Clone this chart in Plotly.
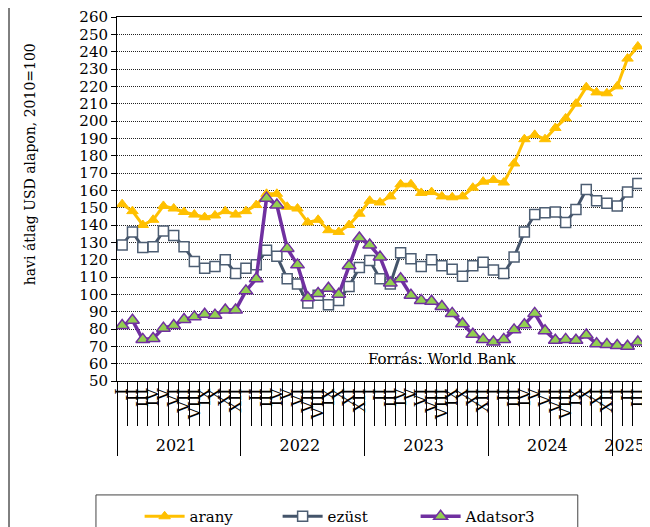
import plotly.graph_objects as go

# havi indexek, 2010=100
month_labels = ["I", "II", "III", "IV", "V", "VI", "VII", "VIII", "IX", "X", "XI", "XII"]
year_labels = ["2021", "2022", "2023", "2024", "2025"]
months_per_year = [12, 12, 12, 12, 3]

arany = [152, 148, 140, 143, 151, 149.5, 147.5, 146, 144.5, 145.5, 148, 146,
         148, 151.5, 158, 158, 150.5, 149.5, 141.5, 143, 137, 136, 140, 146.5,
         154, 153, 156.5, 163.5, 163.5, 158.5, 159, 156.5, 156, 156.5, 161.5, 165,
         166, 164.5, 175.5, 189.5, 192, 189.5, 196, 201.5, 210, 219.5, 216.5, 216,
         220, 236, 243]
ezust = [128.5, 136, 127, 127.5, 136.5, 134, 127.5, 119, 115, 116, 120, 112,
         115, 117, 125.5, 122, 109, 106, 95, 99.5, 94, 96.5, 104.5, 115.5,
         119.5, 109, 106, 124, 120.5, 116, 120, 116.5, 114.5, 110.5, 116.5, 118.5,
         114, 112, 121.5, 136, 146, 147, 147.5, 141.5, 149, 160.5, 154, 152.5,
         151, 159, 164]
adatsor3 = [82, 85, 74, 74.5, 80.5, 82, 85.5, 87, 88.5, 88, 91, 91,
            102, 109, 155.5, 151.5, 126.5, 117, 98, 100.5, 103.5, 100, 116.5, 132.5,
            128.5, 121.5, 106.5, 109, 99.5, 96.5, 96, 93, 89, 83, 77, 74,
            72.5, 74, 79.5, 82.5, 89, 79, 73.5, 74, 73.5, 76.5, 71.5, 71,
            70.5, 70, 72.5]

x_years = [y for y, n in zip(year_labels, months_per_year) for _ in range(n)]
x_months = [m for n in months_per_year for m in month_labels[:n]]
x = [x_years, x_months]

FONT = "DejaVu Serif"

fig = go.Figure()
fig.add_trace(go.Scatter(x=x, y=arany, name="arany", mode="lines+markers",
                         line=dict(color="#FFC000", width=3),
                         marker=dict(symbol="triangle-up", size=10, color="#FFC000",
                                     line=dict(color="#FFC000", width=1))))
fig.add_trace(go.Scatter(x=x, y=ezust, name="ezüst", mode="lines+markers",
                         line=dict(color="#44546A", width=3),
                         marker=dict(symbol="square", size=10, color="white",
                                     line=dict(color="#4d5e73", width=1.5))))
fig.add_trace(go.Scatter(x=x, y=adatsor3, name="Adatsor3", mode="lines+markers",
                         line=dict(color="#7030A0", width=3.5),
                         marker=dict(symbol="triangle-up", size=12, color="#92D050",
                                     line=dict(color="#7030A0", width=1.5))))

fig.update_xaxes(type="multicategory", range=[-0.5, len(arany) - 0.5],
                 showline=True, mirror=True, linecolor="black",
                 linewidth=1, showgrid=False, ticks="outside", tickson="boundaries",
                 ticklen=44, tickcolor="black", tickangle=-90,
                 tickmode="linear", tick0=0, dtick=1,
                 showdividers=True, dividercolor="black", dividerwidth=1,
                 tickfont=dict(family=FONT, size=16, color="black"))
fig.update_yaxes(range=[50, 260], dtick=10, showline=True, mirror=True, linecolor="black",
                 linewidth=1, ticks="outside", ticklen=5, tickcolor="black",
                 showgrid=True, gridcolor="#222", griddash="1px,1px", gridwidth=1,
                 zeroline=False, tickfont=dict(family=FONT, size=15, color="black"))

fig.add_annotation(text="havi átlag USD alapon, 2010=100", textangle=-90,
                   xref="paper", yref="paper", x=-0.165, y=0.596, xanchor="center",
                   showarrow=False, font=dict(family=FONT, size=14, color="black"))
fig.add_annotation(text="Forrás: World Bank", xref="paper", yref="paper",
                   x=0.618, y=0.03, showarrow=False,
                   font=dict(family=FONT, size=15, color="black"))

# legend frame and page border on the left
fig.add_shape(type="rect", xref="paper", yref="paper", x0=-0.04, x1=0.876,
              y0=-0.45, y1=-0.313, line=dict(color="#444", width=1))
fig.add_shape(type="line", xref="paper", yref="paper", x0=-0.2053, x1=-0.2053,
              y0=-0.5, y1=1.1, line=dict(color="black", width=1))

fig.update_layout(
    width=650, height=527,
    margin=dict(l=109, r=15, t=9, b=154, autoexpand=False),
    paper_bgcolor="white", plot_bgcolor="white",
    showlegend=True,
    legend=dict(orientation="h", x=0.043, xanchor="left", y=-0.327, yanchor="top",
                entrywidth=83, itemwidth=40,
                font=dict(family=FONT, size=15, color="black"),
                bgcolor="rgba(0,0,0,0)", borderwidth=0),
)

fig.write_html("out.html")
